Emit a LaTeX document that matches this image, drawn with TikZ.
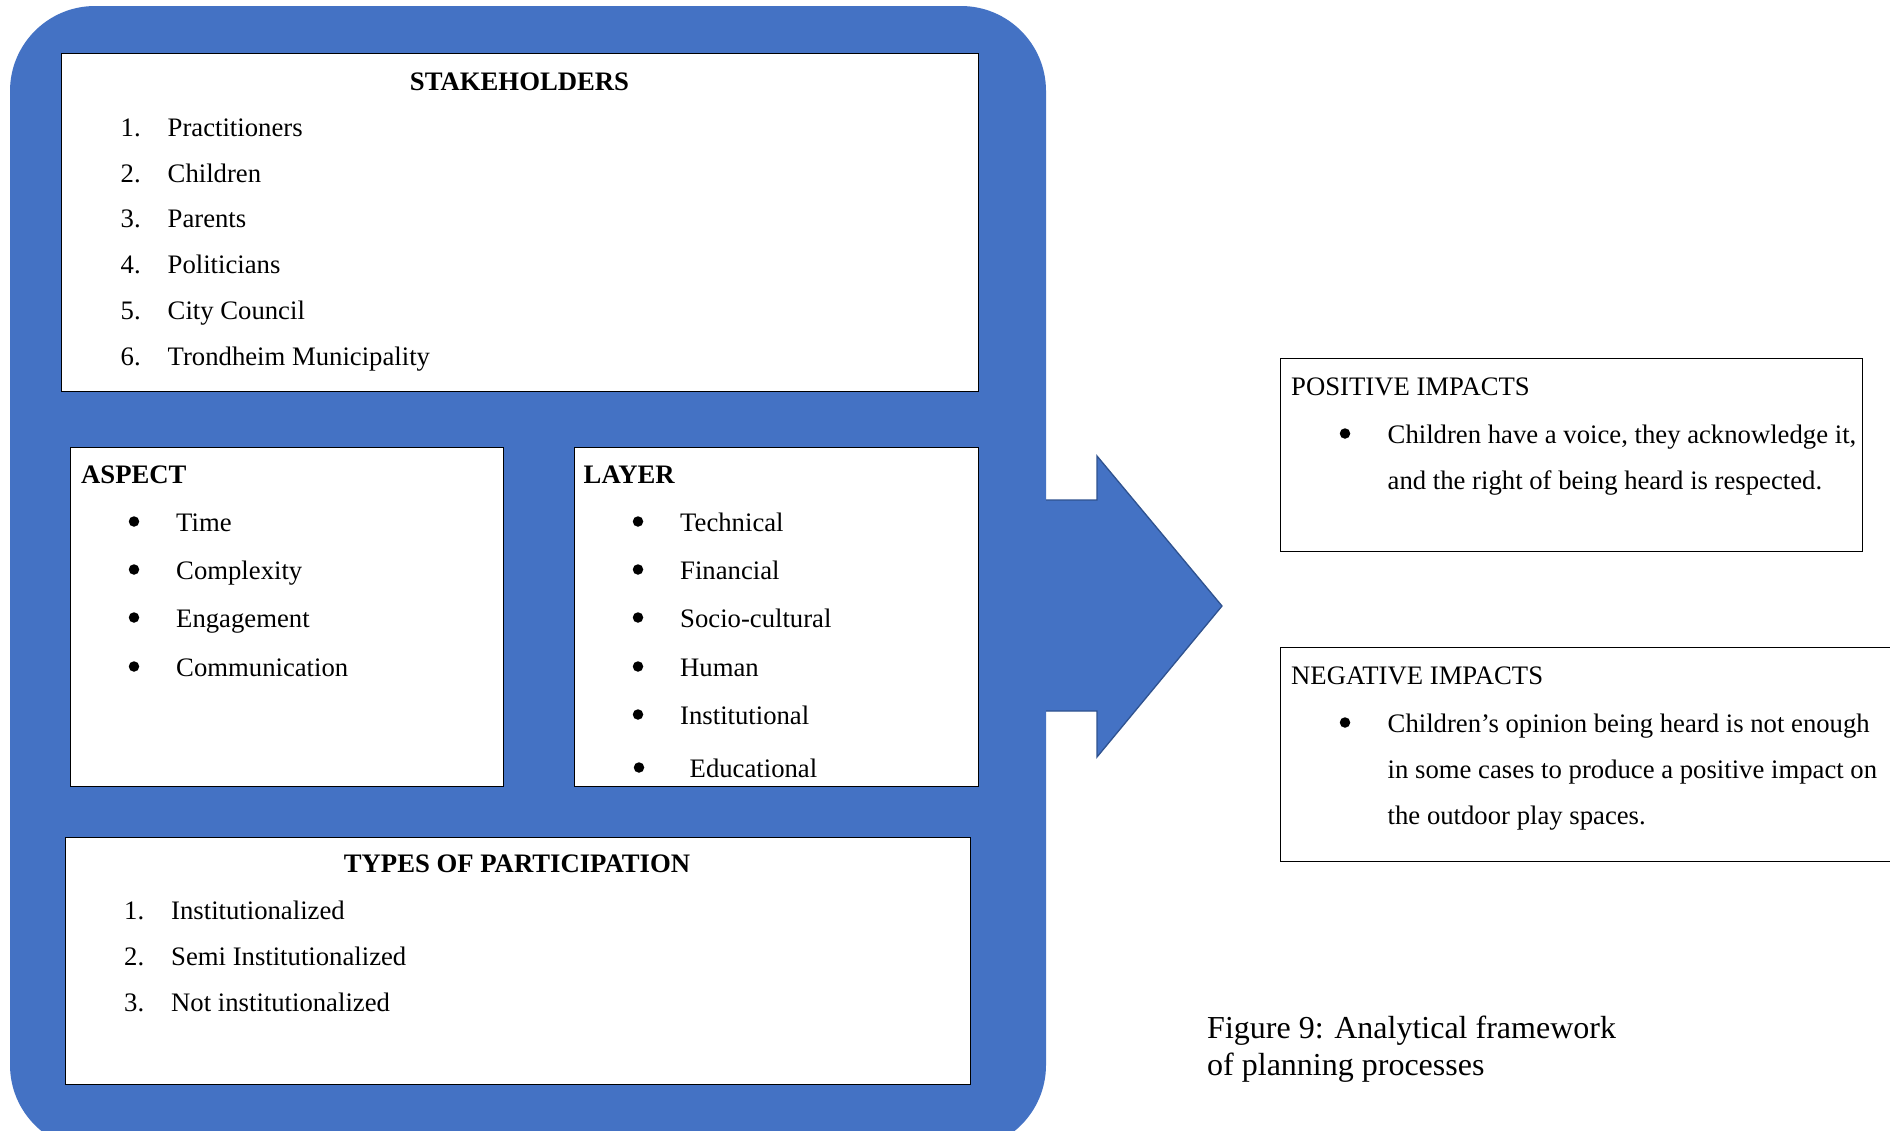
\documentclass[tikz,border=0pt]{standalone}
\usepackage{fontspec}
\setmainfont{Liberation Serif}
\definecolor{frameblue}{HTML}{4472C4}
\definecolor{arrowline}{HTML}{2F528F}
\begin{document}
\begin{tikzpicture}[x=1pt,y=-1pt,
  txt/.style={inner sep=0pt,anchor=base west,font=\fontsize{26.7}{32}\selectfont},
  head/.style={txt,font=\fontsize{26.7}{32}\selectfont\bfseries},
  chead/.style={head,anchor=base},
  bul/.style={circle,fill=black,inner sep=0pt,minimum size=10.5pt,yshift=9.5pt},
  panel/.style={draw=black,line width=1.4pt,fill=white,anchor=north west,inner sep=0pt},
  captext/.style={inner sep=0pt,anchor=base west,font=\fontsize{32}{38}\selectfont}]
% page area
\clip (0,0) rectangle (1890,1130);
\fill[white] (0,0) rectangle (1890,1130);
% blue frame
\fill[frameblue,rounded corners=85pt] (10,6) rectangle (1046,1150);
% arrow
\fill[frameblue] (1046,500) -- (1097,500) -- (1097,456) -- (1222,606) -- (1097,757) -- (1097,711) -- (1046,711) -- cycle;
\draw[arrowline,line width=1.3pt,line join=miter] (1046,500) -- (1097,500) -- (1097,456) -- (1222,606) -- (1097,757) -- (1097,711) -- (1046,711);
% panels
\node[panel,minimum width=917pt,minimum height=338pt] (stake) at (61,53) {};
\node[panel,minimum width=433pt,minimum height=339pt] (aspect) at (70,447) {};
\node[panel,minimum width=404pt,minimum height=339pt] (layer) at (574,447) {};
\node[panel,minimum width=905pt,minimum height=247pt] (types) at (65,837) {};
\node[panel,minimum width=582pt,minimum height=193pt] (pos) at (1280,358) {};
\node[panel,minimum width=640pt,minimum height=214pt] (neg) at (1280,647) {};
% stakeholders
\node[chead] (sh) at (519.5,90) {STAKEHOLDERS};
\node[txt] (sn1) at (120.5,136) {1.};  \node[txt] (s1) at (167.5,136) {Practitioners};
\node[txt] (sn2) at (120.5,182) {2.};  \node[txt] (s2) at (167.5,182) {Children};
\node[txt] (sn3) at (120.5,227.5) {3.};\node[txt] (s3) at (167.5,227.5) {Parents};
\node[txt] (sn4) at (120.5,273) {4.};  \node[txt] (s4) at (167.5,273) {Politicians};
\node[txt] (sn5) at (120.5,319) {5.};  \node[txt] (s5) at (167.5,319) {City Council};
\node[txt] (sn6) at (120.5,365) {6.};  \node[txt] (s6) at (167.5,365) {Trondheim Municipality};
% aspect
\node[head] (ah) at (81,483) {ASPECT};
\node[bul] (ab1) at (134,531) {}; \node[txt] (a1) at (176,531) {Time};
\node[bul] (ab2) at (134,579) {}; \node[txt] (a2) at (176,579) {Complexity};
\node[bul] (ab3) at (134,627) {}; \node[txt] (a3) at (176,627) {Engagement};
\node[bul] (ab4) at (134,676) {}; \node[txt] (a4) at (176,676) {Communication};
% layer
\node[head] (lh) at (583.5,483) {LAYER};
\node[bul] (lb1) at (638,531) {}; \node[txt] (l1) at (680,531) {Technical};
\node[bul] (lb2) at (638,579) {}; \node[txt] (l2) at (680,579) {Financial};
\node[bul] (lb3) at (638,627) {}; \node[txt] (l3) at (680,627) {Socio-cultural};
\node[bul] (lb4) at (638,676) {}; \node[txt] (l4) at (680,676) {Human};
\node[bul] (lb5) at (638,724) {}; \node[txt] (l5) at (680,724) {Institutional};
\node[bul] (lb6) at (639,777) {}; \node[txt] (l6) at (689.5,777) {Educational};
% types of participation
\node[chead] (th) at (517,872) {TYPES OF PARTICIPATION};
\node[txt] (tn1) at (124,919) {1.};  \node[txt] (t1) at (171,919) {Institutionalized};
\node[txt] (tn2) at (124,965) {2.};  \node[txt] (t2) at (171,965) {Semi Institutionalized};
\node[txt] (tn3) at (124,1011) {3.}; \node[txt] (t3) at (171,1011) {Not institutionalized};
% positive impacts
\node[txt] (ph) at (1291,395) {POSITIVE IMPACTS};
\node[bul] (pb1) at (1345,443) {};
\node[txt] (p1) at (1387.5,443) {Children have a voice, they acknowledge it,};
\node[txt] (p2) at (1387.5,489) {and the right of being heard is respected.};
% negative impacts
\node[txt] (nh) at (1291,684) {NEGATIVE IMPACTS};
\node[bul] (nb1) at (1345,732) {};
\node[txt] (n1) at (1387.5,732) {Children’s opinion being heard is not enough};
\node[txt] (n2) at (1387.5,778) {in some cases to produce a positive impact on};
\node[txt] (n3) at (1387.5,824) {the outdoor play spaces.};
% caption
\node[captext] (c1) at (1207,1038) {Figure 9: Analytical framework};
\node[captext] (c2) at (1207,1075) {of planning processes};
\end{tikzpicture}
\end{document}
